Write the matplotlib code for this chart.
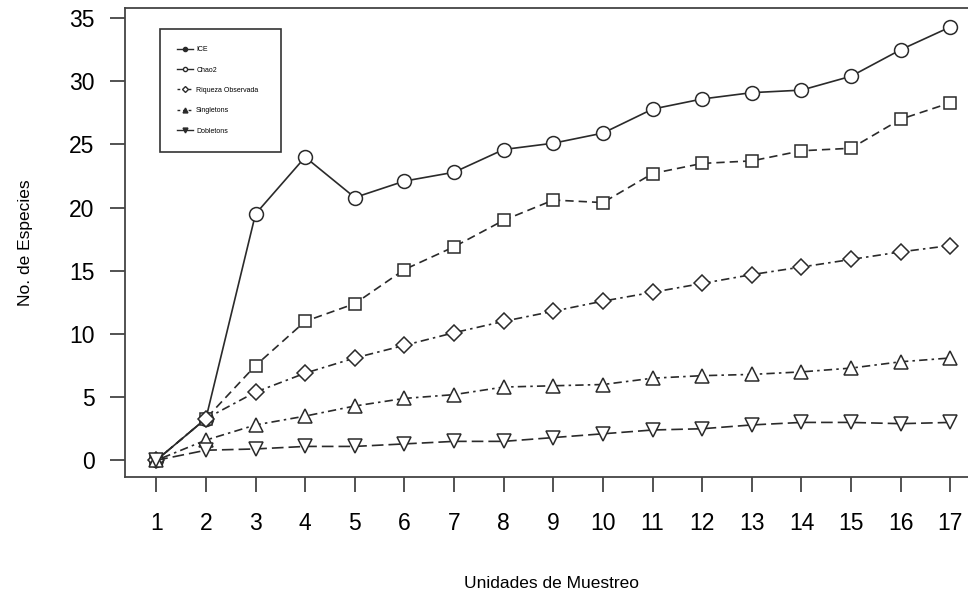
import matplotlib.pyplot as plt
from matplotlib.lines import Line2D

plt.rcParams['font.family'] = ['Liberation Sans', 'DejaVu Sans']

unidades = list(range(1, 18))
ice = [0, 3.3, 19.5, 24.0, 20.8, 22.1, 22.8, 24.6, 25.1, 25.9, 27.8, 28.6, 29.1, 29.3, 30.4, 32.5, 34.3]
chao2 = [0, 3.3, 7.5, 11.0, 12.4, 15.1, 16.9, 19.0, 20.6, 20.4, 22.7, 23.5, 23.7, 24.5, 24.7, 27.0, 28.3]
riqueza = [0, 3.3, 5.4, 6.9, 8.1, 9.1, 10.1, 11.0, 11.8, 12.6, 13.3, 14.0, 14.7, 15.3, 15.9, 16.5, 17.0]
singletons = [0, 1.6, 2.8, 3.5, 4.3, 4.9, 5.2, 5.8, 5.9, 6.0, 6.5, 6.7, 6.8, 7.0, 7.3, 7.8, 8.1]
doubletons = [0, 0.8, 0.9, 1.1, 1.1, 1.3, 1.5, 1.5, 1.8, 2.1, 2.4, 2.5, 2.8, 3.0, 3.0, 2.9, 3.0]
etiquetas = ["ICE", "Chao2", "Riqueza Observada", "Singletons", "Dobletons"]

col = "#2a2a2a"
fig = plt.figure(figsize=(9.68, 5.94), dpi=100)
ax = fig.add_axes([125 / 968, 1 - 477 / 594, 1 - 125 / 968 + 0.01, (477 - 8) / 594])

estilo = dict(color=col, lw=1.2, ms=10, mfc="white", mec=col, mew=1.1)
ax.plot(unidades, ice, ls="-", marker="o", **estilo)
ax.plot(unidades, chao2, ls=(0, (5, 3)), marker="s", **dict(estilo, ms=8.5))
ax.plot(unidades, riqueza, ls=(0, (1.5, 2.5, 5, 2.5)), marker="D", **dict(estilo, ms=8))
ax.plot(unidades, singletons, ls=(0, (1.5, 2.5, 5, 2.5)), marker="^", **estilo)
ax.plot(unidades, doubletons, ls=(0, (7, 3)), marker="v", **estilo)

ax.set_xlim(0.37, 17.55)
ax.set_ylim(-1.32, 35.8)
ax.set_xticks(unidades)
ax.set_yticks(range(0, 36, 5))
ax.tick_params(direction="out", length=11, width=1.3, color="#444", labelsize=16.5)
ax.tick_params(axis="y", pad=11)
ax.tick_params(axis="x", pad=14)
for s in ["left", "bottom", "top"]:
    ax.spines[s].set_linewidth(1.3)
    ax.spines[s].set_color("#444")
ax.spines["right"].set_visible(False)

ax.set_xlabel("Unidades de Muestreo", fontsize=12.5, labelpad=30)
ax.set_ylabel("No. de Especies", fontsize=12.5, labelpad=26)

handles = [
    Line2D([], [], color=col, lw=1, ls="-", marker="o", ms=3),
    Line2D([], [], color=col, lw=1, ls="-", marker="o", ms=3, mfc="white"),
    Line2D([], [], color=col, lw=1, ls=(0, (2, 2)), marker="D", ms=3, mfc="white"),
    Line2D([], [], color=col, lw=1, ls=(0, (2, 2)), marker="^", ms=3.5),
    Line2D([], [], color=col, lw=1, ls="-", marker="v", ms=3.5),
]
leg = ax.legend(handles, etiquetas, loc="upper left", bbox_to_anchor=(0.037, 0.963, 0.15, 0.0),
                mode="expand", fontsize=5, handlelength=2.2, handletextpad=0.5,
                labelspacing=1.92, borderpad=2.5,
                fancybox=False, framealpha=1, edgecolor="#333")
leg.get_frame().set_linewidth(1.2)

fig.savefig("out.png", dpi=100)
